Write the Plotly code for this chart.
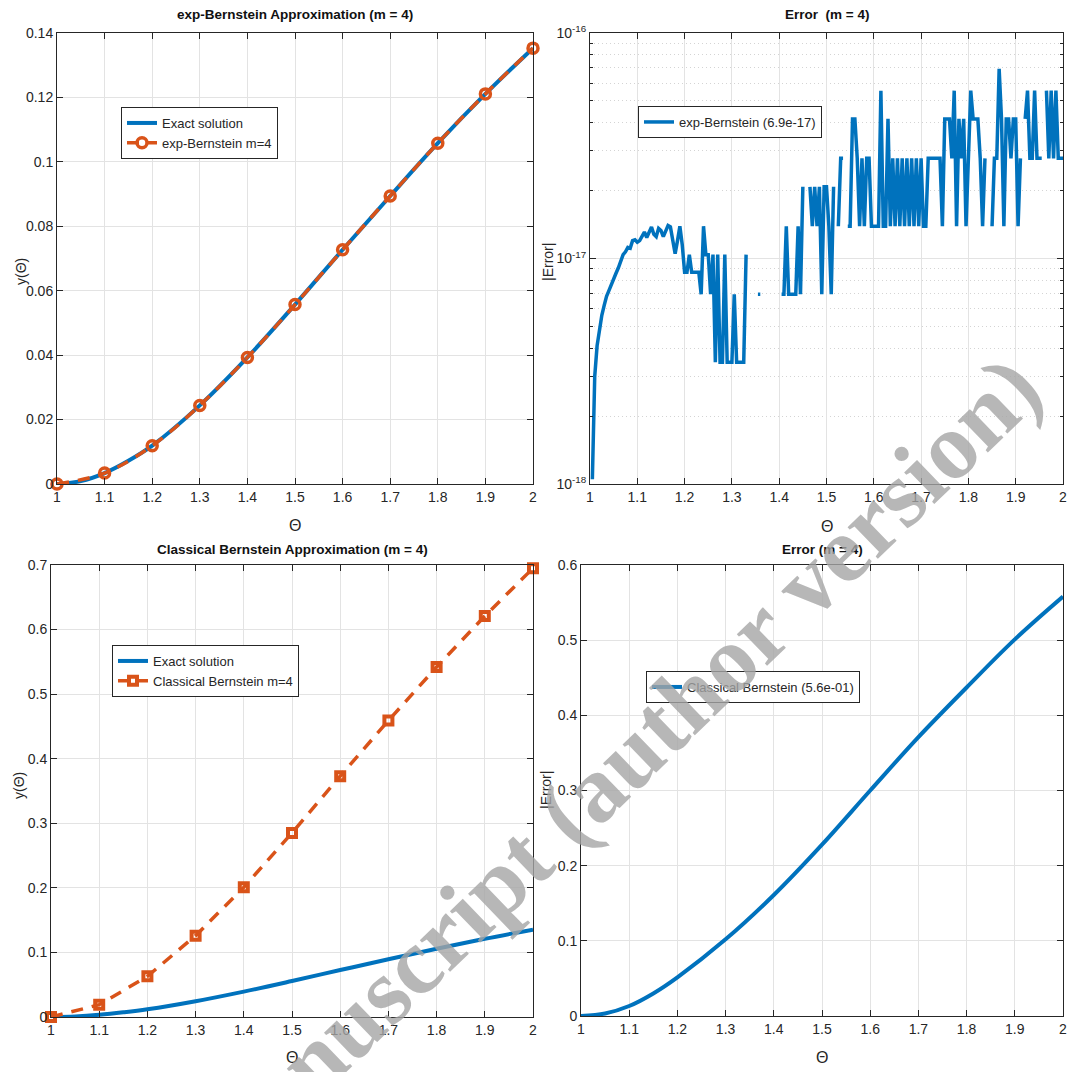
import plotly.graph_objects as go
import numpy as np

# ---------------- data ----------------
theta11 = [1.0, 1.1, 1.2, 1.3, 1.4, 1.5, 1.6, 1.7, 1.8, 1.9, 2.0]
theta13 = [1.0, 1.05, 1.1, 1.15, 1.2, 1.3, 1.4, 1.5, 1.6, 1.7, 1.8, 1.9, 2.0]
exact = [0.0, 0.0009, 0.0034, 0.0072, 0.0119, 0.0244, 0.0393, 0.0557, 0.0727, 0.0894, 0.1058, 0.1211, 0.1353]
exp_bern = [0.0, 0.0034, 0.0119, 0.0244, 0.0393, 0.0557, 0.0727, 0.0894, 0.1058, 0.1211, 0.1353]
classical = [0.0, 0.019, 0.063, 0.126, 0.201, 0.285, 0.373, 0.459, 0.542, 0.621, 0.695]
err_classical = [0.0, 0.0034, 0.0133, 0.030, 0.0514, 0.102, 0.161, 0.228, 0.300, 0.371, 0.437, 0.501, 0.558]

theta_fine = np.round(np.linspace(1.0, 2.0, 201), 3)
N = None
err_exp = [
    N, 1.05e-18, 3.0e-18, 4.1e-18, 4.9e-18, 5.6e-18, 6.2e-18, 6.8e-18, 7.2e-18, 7.7e-18,      # 1.000-1.045
    8.1e-18, 8.6e-18, 9.1e-18, 9.8e-18, 1.04e-17, 1.07e-17, 1.12e-17, 1.11e-17, 1.2e-17, 1.21e-17,  # 1.050-1.095
    1.18e-17, 1.2e-17, 1.25e-17, 1.31e-17, 1.24e-17, 1.3e-17, 1.38e-17, 1.28e-17, 1.25e-17, 1.36e-17,  # 1.100-1.145
    1.33e-17, 1.25e-17, 1.32e-17, 1.4e-17, 1.38e-17, 1.2e-17, 1.05e-17, 1.2e-17, 1.39e-17, 1.15e-17,  # 1.150-1.195
    8.7e-18, 8.7e-18, 1.04e-17, 8.7e-18, 8.7e-18, 8.7e-18, 8.7e-18, 6.94e-18, 1.39e-17, 1.04e-17,  # 1.200-1.245
    1.04e-17, 6.94e-18, 1.04e-17, 3.47e-18, 1.04e-17, 3.47e-18, 3.47e-18, 1.04e-17, 3.47e-18, 3.47e-18,  # 1.250-1.295
    3.47e-18, 6.94e-18, 3.47e-18, 3.47e-18, 3.47e-18, 3.47e-18, 1.04e-17, N, N, N,  # 1.300-1.345
    N, 6.94e-18, 6.94e-18, N, N, N, N, N, N, N,  # 1.350-1.395
    N, 6.94e-18, 6.94e-18, 1.39e-17, 6.94e-18, 6.94e-18, 6.94e-18, 6.94e-18, 1.39e-17, 6.94e-18,  # 1.400-1.445
    2.08e-17, N, N, 2.08e-17, 1.39e-17, 2.08e-17, 1.39e-17, 2.08e-17, 6.94e-18, 2.08e-17,  # 1.450-1.495
    2.08e-17, 1.39e-17, 6.94e-18, 2.08e-17, N, 1.39e-17, 2.78e-17, 2.78e-17, N, 1.39e-17,  # 1.500-1.545
    1.39e-17, 4.16e-17, 4.16e-17, 2.78e-17, 1.39e-17, 2.78e-17, 1.39e-17, 2.78e-17, 2.78e-17, 1.39e-17,  # 1.550-1.595
    1.39e-17, 1.39e-17, 1.39e-17, 5.55e-17, 1.39e-17, 1.39e-17, 4.16e-17, 1.39e-17, 2.78e-17, 1.39e-17,  # 1.600-1.645
    2.78e-17, 1.39e-17, 2.78e-17, 1.39e-17, 2.78e-17, 1.39e-17, 2.78e-17, 1.39e-17, 2.78e-17, 1.39e-17,  # 1.650-1.695
    2.78e-17, 1.39e-17, 1.39e-17, 2.78e-17, 2.78e-17, 2.78e-17, 2.78e-17, 2.78e-17, 2.78e-17, 1.39e-17,  # 1.700-1.745
    4.16e-17, 4.16e-17, 4.16e-17, 2.78e-17, 5.55e-17, 1.39e-17, 4.16e-17, 2.78e-17, 4.16e-17, 1.39e-17,  # 1.750-1.795
    2.78e-17, 5.55e-17, 4.16e-17, 4.16e-17, 4.16e-17, 2.78e-17, 1.39e-17, 2.78e-17, N, N,  # 1.800-1.845
    1.39e-17, 2.78e-17, 2.78e-17, 6.94e-17, 4.16e-17, 1.39e-17, 4.16e-17, 4.16e-17, 2.78e-17, 4.16e-17,  # 1.850-1.895
    4.16e-17, 1.39e-17, 2.78e-17, N, 4.16e-17, 5.55e-17, 2.78e-17, 2.78e-17, 5.55e-17, 2.78e-17,  # 1.900-1.945
    2.78e-17, 2.78e-17, N, 5.55e-17, 2.78e-17, 5.55e-17, 2.78e-17, 5.55e-17, 2.78e-17, 2.78e-17,  # 1.950-1.995
    2.78e-17,  # 2.000
]

x_ticks = [1.0, 1.1, 1.2, 1.3, 1.4, 1.5, 1.6, 1.7, 1.8, 1.9, 2.0]
x_ticktext = ["1", "1.1", "1.2", "1.3", "1.4", "1.5", "1.6", "1.7", "1.8", "1.9", "2"]
log_ticks = [1e-18, 1e-17, 1e-16]
log_ticktext = ["10<sup>-18</sup>", "10<sup>-17</sup>", "10<sup>-16</sup>"]
log_minor = [2e-18, 3e-18, 4e-18, 5e-18, 6e-18, 7e-18, 8e-18, 9e-18,
             2e-17, 3e-17, 4e-17, 5e-17, 6e-17, 7e-17, 8e-17, 9e-17]

# ---------------- style ----------------
BLUE = "#0072BD"
ORANGE = "#D95319"
AX = "#262626"
GRID = "#e3e3e3"
FONT = "Liberation Sans Narrow, Arial Narrow, Liberation Sans, Arial, sans-serif"

W = 1072.0
def px_x(a, b):
    return [a / W, b / W]
def px_y(top, bottom):
    return [1 - bottom / W, 1 - top / W]

fig = go.Figure()

# top-left
fig.add_trace(go.Scatter(x=theta13, y=exact, mode="lines", line=dict(color=BLUE, width=4, shape="spline"),
                         name="Exact solution", xaxis="x", yaxis="y", legend="legend", cliponaxis=False))
fig.add_trace(go.Scatter(x=theta11, y=exp_bern, mode="lines+markers",
                         line=dict(color=ORANGE, width=3.5, dash="12px,9px", shape="spline"),
                         marker=dict(symbol="circle-open", size=10, color=ORANGE, line=dict(width=3.5, color=ORANGE)),
                         name="exp-Bernstein m=4", xaxis="x", yaxis="y", legend="legend", cliponaxis=False))
# top-right
fig.add_trace(go.Scatter(x=theta_fine, y=err_exp, mode="lines", line=dict(color=BLUE, width=3.5),
                         connectgaps=False, name="exp-Bernstein (6.9e-17)", xaxis="x2", yaxis="y2", legend="legend2"))
# bottom-left
fig.add_trace(go.Scatter(x=theta13, y=exact, mode="lines", line=dict(color=BLUE, width=4, shape="spline"),
                         name="Exact solution", xaxis="x3", yaxis="y3", legend="legend3", cliponaxis=False))
fig.add_trace(go.Scatter(x=theta11, y=classical, mode="lines+markers",
                         line=dict(color=ORANGE, width=3.5, dash="12px,9px"),
                         marker=dict(symbol="square-open", size=8, color=ORANGE, line=dict(width=4, color=ORANGE)),
                         name="Classical Bernstein m=4", xaxis="x3", yaxis="y3", legend="legend3", cliponaxis=False))
# bottom-right
fig.add_trace(go.Scatter(x=theta13, y=err_classical, mode="lines", line=dict(color=BLUE, width=4, shape="spline"),
                         name="Classical Bernstein (5.6e-01)", xaxis="x4", yaxis="y4", legend="legend4", cliponaxis=False))

def xaxis(domain, anchor):
    return dict(domain=domain, anchor=anchor, range=[1, 2], tickvals=x_ticks, ticktext=x_ticktext,
                showline=True, linecolor=AX, linewidth=1, mirror="allticks", ticks="inside", ticklen=6,
                tickcolor=AX, showgrid=True, gridcolor=GRID, gridwidth=1, zeroline=False,
                tickfont=dict(family=FONT, size=14, color=AX), automargin=False)

def yaxis(domain, anchor, rng, dtick):
    return dict(domain=domain, anchor=anchor, range=rng, dtick=dtick, tick0=0,
                showline=True, linecolor=AX, linewidth=1, mirror="allticks", ticks="inside", ticklen=6,
                tickcolor=AX, showgrid=True, gridcolor=GRID, gridwidth=1, zeroline=False,
                tickfont=dict(family=FONT, size=14, color=AX), automargin=False)

legend_base = dict(bgcolor="white", bordercolor=AX, borderwidth=1, xanchor="left", yanchor="top",
                   font=dict(family=FONT, size=13, color=AX), tracegroupgap=0, itemwidth=30)

fig.update_layout(
    width=1072, height=1072, paper_bgcolor="white", plot_bgcolor="white",
    margin=dict(l=0, r=0, t=0, b=0),
    xaxis=xaxis(px_x(57, 533), "y"),
    yaxis=yaxis(px_y(33, 484), "x", [0, 0.14], 0.02),
    xaxis2=xaxis(px_x(590, 1063), "y2"),
    yaxis2=dict(yaxis(px_y(33, 484), "x2", [-18, -16], None), type="log",
                tickvals=log_ticks, ticktext=log_ticktext, dtick=None, tick0=None,
                minor=dict(tickvals=log_minor, ticks="inside", ticklen=3, tickcolor=AX,
                           showgrid=True, gridcolor="#d4d4d4", griddash="1px,3px")),
    xaxis3=xaxis(px_x(51, 533), "y3"),
    yaxis3=yaxis(px_y(565, 1017), "x3", [0, 0.7], 0.1),
    xaxis4=xaxis(px_x(581, 1063), "y4"),
    yaxis4=yaxis(px_y(565, 1016), "x4", [0, 0.6], 0.1),
    legend=dict(legend_base, x=121 / W, y=1 - 107 / W),
    legend2=dict(legend_base, x=638 / W, y=1 - 106 / W),
    legend3=dict(legend_base, x=112 / W, y=1 - 645 / W),
    legend4=dict(legend_base, x=646 / W, y=1 - 671 / W),
    showlegend=True,
)

titles = [
    ("<b>exp-Bernstein Approximation (m = 4)</b>", (57 + 533) / 2, 14),
    ("<b>Error  (m = 4)</b>", (590 + 1063) / 2, 14),
    ("<b>Classical Bernstein Approximation (m = 4)</b>", (51 + 533) / 2, 549),
    ("<b>Error (m = 4)</b>", (581 + 1063) / 2, 549),
]
for text, cx, cy in titles:
    fig.add_annotation(text=text, x=cx / W, y=1 - cy / W, xref="paper", yref="paper",
                       xanchor="center", yanchor="middle", showarrow=False,
                       font=dict(family=FONT, size=13.5, color="#111111"))

# axis titles
axis_titles = [
    ("Θ", 295, 525, 0, 16), ("Θ", 827, 526, 0, 16), ("Θ", 292, 1057, 0, 16), ("Θ", 822, 1057, 0, 16),
    ("y(Θ)", 21, 272, -90, 14), ("|Error|", 548, 262, -90, 14),
    ("y(Θ)", 19, 786, -90, 14), ("|Error|", 546, 790, -90, 14),
]
for text, cx, cy, ang, sz in axis_titles:
    fig.add_annotation(text=text, x=cx / W, y=1 - cy / W, xref="paper", yref="paper",
                       xanchor="center", yanchor="middle", showarrow=False, textangle=ang,
                       font=dict(family="Liberation Sans", size=sz, color=AX))

# watermark
fig.add_annotation(text="<b>Accepted manuscript (author version)</b>", x=470 / W, y=1 - 908 / W,
                   xref="paper", yref="paper", xanchor="center", yanchor="middle", showarrow=False,
                   textangle=-44, font=dict(family="Liberation Serif", size=95, color="rgba(165,165,165,0.8)"))

fig.write_html("out.html")
